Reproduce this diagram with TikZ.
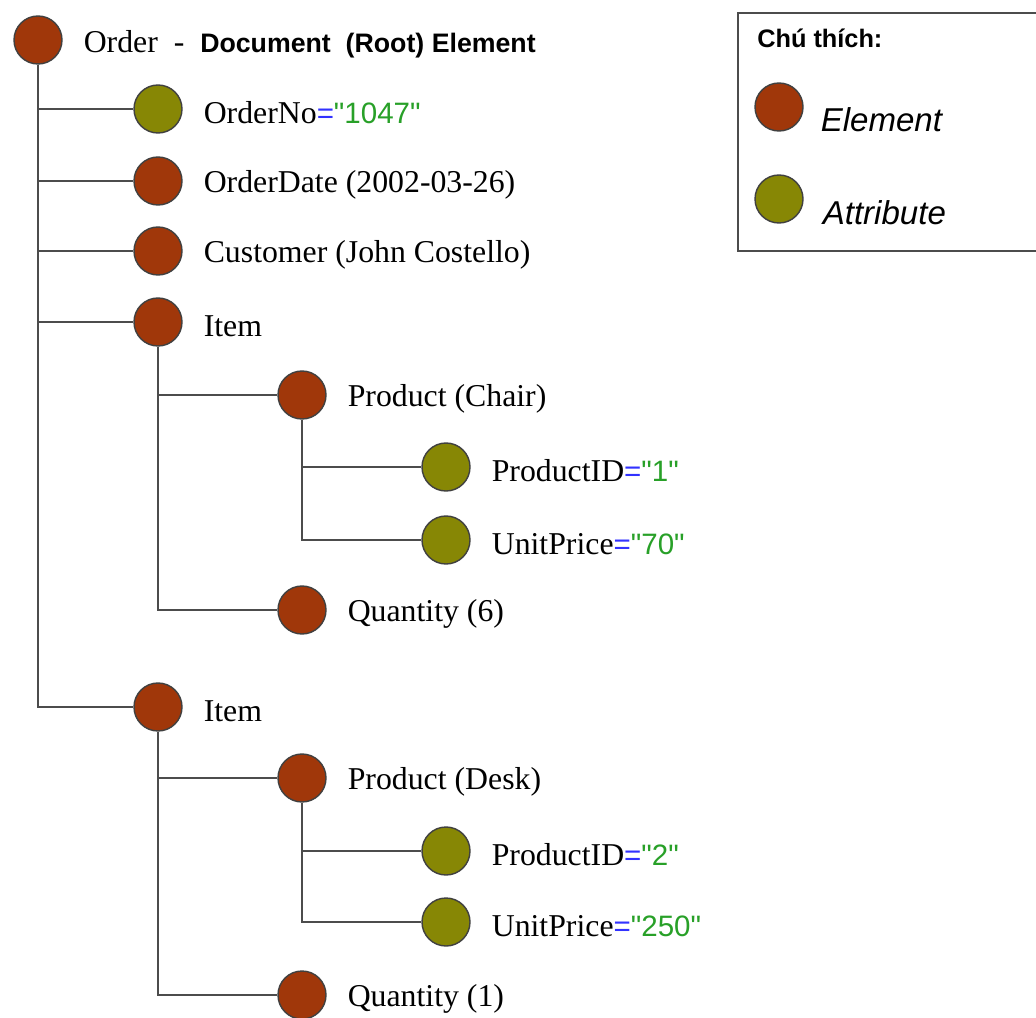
\documentclass[tikz,border=0pt]{standalone}
\usepackage{fontspec}
\setmainfont{Liberation Serif}
\newfontfamily\arialfont{Liberation Sans}[Ligatures=TeXOff]
\usetikzlibrary{positioning}

\definecolor{elemred}{RGB}{160,55,10}
\definecolor{attrolive}{RGB}{135,135,5}
\definecolor{eqblue}{RGB}{50,50,255}
\definecolor{valgreen}{RGB}{40,160,40}

% attribute value: blue '=' and green quoted value
\newcommand{\attval}[1]{{\arialfont\fontsize{21}{25}\selectfont\textcolor{eqblue}{=}\textcolor{valgreen}{"#1"}}}

\begin{document}
\begin{tikzpicture}[
  x=0.025cm, y=-0.025cm,
  elem/.style={circle, draw=black!75, line width=1pt, fill=elemred, minimum size=1.2cm, inner sep=0pt},
  attr/.style={elem, fill=attrolive},
  lbl/.style={anchor=west, inner sep=0pt, yshift=-0.1cm, font=\fontsize{22.6}{26}\selectfont},
  link/.style={draw=black!70, line width=1.5pt},
  legtext/.style={anchor=west, inner sep=0pt, font=\arialfont\itshape\fontsize{23.5}{27}\selectfont},
]
\useasboundingbox (0,0) rectangle (1036,1017);

% === ROOT ===
\node[elem] (order) at (38,40) {};
\node[lbl, right=0.52cm of order] (orderlbl) {Order\ \ -\ \ {\arialfont\bfseries\fontsize{19}{23}\selectfont Document\ \ (Root) Element}};

% === LEVEL 1 ===
\node[attr] (ordno) at (158,109) {};
\node[lbl, right=0.52cm of ordno] (ordnolbl) {OrderNo\attval{1047}};
\node[elem] (orddate) at (158,181) {};
\node[lbl, right=0.52cm of orddate] (orddatelbl) {OrderDate (2002-03-26)};
\node[elem] (cust) at (158,251) {};
\node[lbl, right=0.52cm of cust] (custlbl) {Customer (John Costello)};
\node[elem] (itema) at (158,322) {};
\node[lbl, right=0.52cm of itema] (itemalbl) {Item};
\node[elem] (itemb) at (158,707) {};
\node[lbl, right=0.52cm of itemb] (itemblbl) {Item};

% === FIRST ITEM ===
\node[elem] (proda) at (302,395) {};
\node[lbl, right=0.52cm of proda] (prodalbl) {Product (Chair)};
\node[attr] (pida) at (446,467) {};
\node[lbl, right=0.52cm of pida] (pidalbl) {ProductID\attval{1}};
\node[attr] (pricea) at (446,540) {};
\node[lbl, right=0.52cm of pricea] (pricealbl) {UnitPrice\attval{70}};
\node[elem] (qtya) at (302,610) {};
\node[lbl, right=0.52cm of qtya] (qtyalbl) {Quantity (6)};

% === SECOND ITEM ===
\node[elem] (prodb) at (302,778) {};
\node[lbl, right=0.52cm of prodb] (prodblbl) {Product (Desk)};
\node[attr] (pidb) at (446,851) {};
\node[lbl, right=0.52cm of pidb] (pidblbl) {ProductID\attval{2}};
\node[attr] (priceb) at (446,922) {};
\node[lbl, right=0.52cm of priceb] (priceblbl) {UnitPrice\attval{250}};
\node[elem] (qtyb) at (302,995) {};
\node[lbl, right=0.52cm of qtyb] (qtyblbl) {Quantity (1)};

% tree links
\foreach \kid in {ordno,orddate,cust,itema,itemb}
  \draw[link] (order.south) |- (\kid.west);
\foreach \kid in {proda,qtya}
  \draw[link] (itema.south) |- (\kid.west);
\foreach \kid in {pida,pricea}
  \draw[link] (proda.south) |- (\kid.west);
\foreach \kid in {prodb,qtyb}
  \draw[link] (itemb.south) |- (\kid.west);
\foreach \kid in {pidb,priceb}
  \draw[link] (prodb.south) |- (\kid.west);

% === LEGEND ===
\node[draw=black!70, line width=1.2pt, anchor=north west, minimum width=7.6cm, minimum height=5.95cm] (legend) at (737,12) {};
\node[anchor=west, inner sep=0pt, font=\arialfont\bfseries\fontsize{18}{22}\selectfont] (legtitle) at (757,38) {Chú thích:};
\node[elem] (legelem) at (779,107) {};
\node[legtext, right=0.42cm of legelem, yshift=-0.32cm] (legelemlbl) {Element};
\node[attr] (legattr) at (779,199) {};
\node[legtext, right=0.47cm of legattr, yshift=-0.35cm] (legattrlbl) {Attribute};
\end{tikzpicture}
\end{document}
